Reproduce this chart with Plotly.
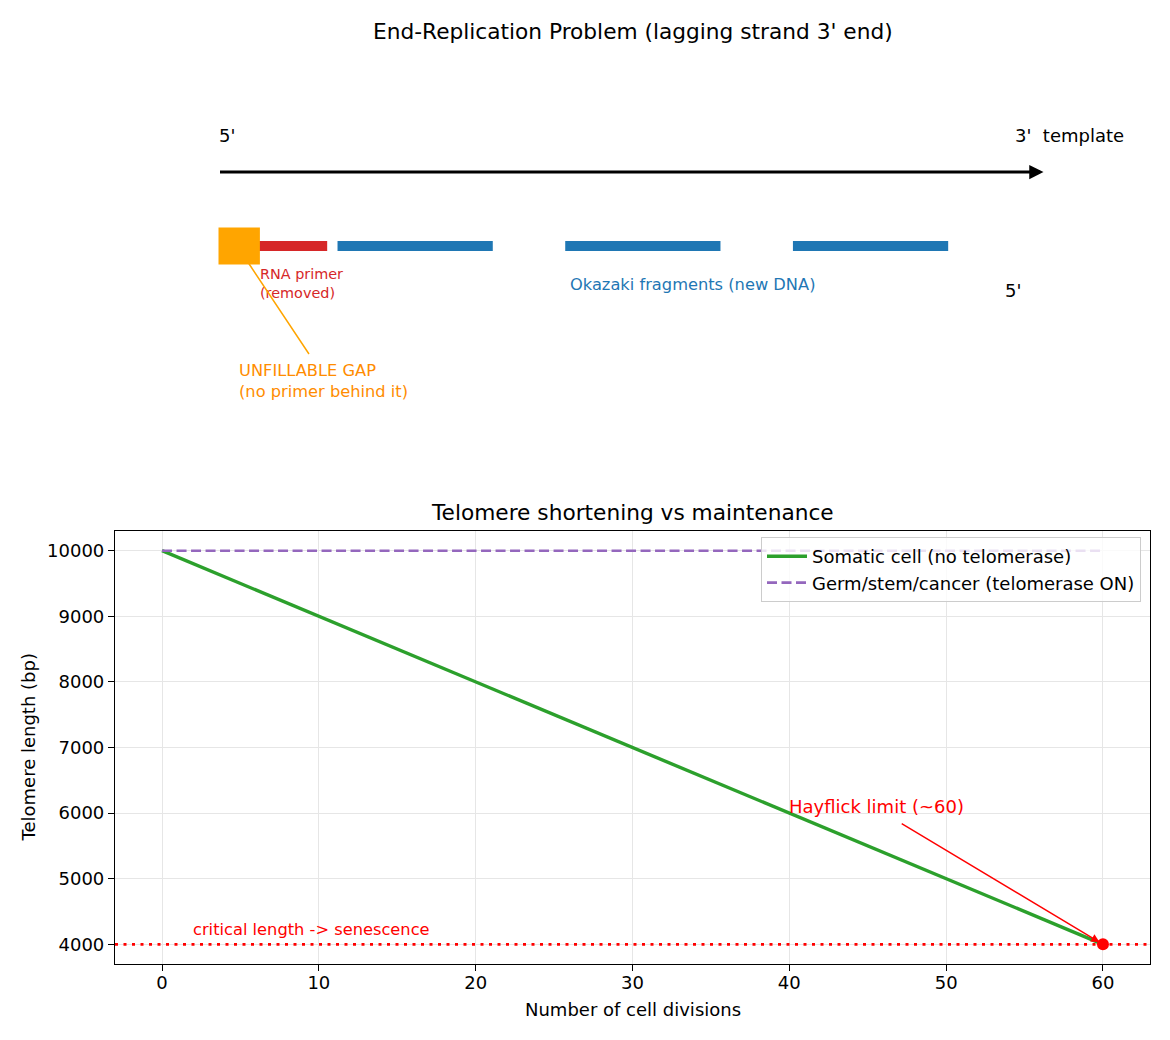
import plotly.graph_objects as go

# ---------------- data ----------------
divisions = [0, 10, 20, 30, 40, 50, 60]
somatic_bp = [10000, 9000, 8000, 7000, 6000, 5000, 4000]
germ_bp = [10000, 10000, 10000, 10000, 10000, 10000, 10000]
critical_bp = 4000
hayflick_div = 60
x_ticks = [0, 10, 20, 30, 40, 50, 60]
y_ticks = [4000, 5000, 6000, 7000, 8000, 9000, 10000]
y_tick_labels = ["4000", "5000", "6000", "7000", "8000", "9000", "10000"]

# diagram (schematic units)
template_span = [1.0, 9.0]
strand_y = 2.0
template_y = 3.0
primer_seg = [1.35, 2.05]
okazaki_segs = [[2.15, 3.65], [4.35, 5.85], [6.55, 8.05]]
gap_box_x = [1.0, 1.4]
gap_box_y = [1.75, 2.25]

W, H = 1170, 1040
FONT = "DejaVu Sans"


def px_x(p):
    return p / W


def px_y(p):
    return 1 - p / H


fig = go.Figure()

# ---------- top diagram ----------
fig.add_trace(go.Scatter(x=primer_seg, y=[strand_y, strand_y], mode="lines",
                         line=dict(color="#d62728", width=10), xaxis="x2", yaxis="y2",
                         showlegend=False, hoverinfo="skip"))
for seg in okazaki_segs:
    fig.add_trace(go.Scatter(x=seg, y=[strand_y, strand_y], mode="lines",
                             line=dict(color="#1f77b4", width=10), xaxis="x2", yaxis="y2",
                             showlegend=False, hoverinfo="skip"))
fig.add_shape(type="rect", xref="x2", yref="y2",
              x0=gap_box_x[0], x1=gap_box_x[1], y0=gap_box_y[0], y1=gap_box_y[1],
              fillcolor="orange", line=dict(width=0), layer="above")

# ---------- bottom chart ----------
fig.add_trace(go.Scatter(x=divisions, y=somatic_bp, mode="lines",
                         name="Somatic cell (no telomerase)",
                         line=dict(color="#2ca02c", width=3.4)))
fig.add_trace(go.Scatter(x=divisions, y=germ_bp, mode="lines",
                         name="Germ/stem/cancer (telomerase ON)",
                         line=dict(color="#9467bd", width=2.6, dash="10px,4.5px")))
fig.add_trace(go.Scatter(x=[-3, 63], y=[critical_bp, critical_bp], mode="lines",
                         line=dict(color="red", width=2.8, dash="3px,5.5px"),
                         showlegend=False, hoverinfo="skip"))
fig.add_trace(go.Scatter(x=[hayflick_div], y=[critical_bp], mode="markers",
                         marker=dict(color="red", size=12), showlegend=False))

annotations = []


def text_ann(text, x, y, size, color="black", xref="paper", yref="paper",
             xanchor="center", yanchor="middle", angle=0, xshift=0, yshift=0,
             align="center"):
    annotations.append(dict(text=text, x=x, y=y, xref=xref, yref=yref,
                            xanchor=xanchor, yanchor=yanchor, showarrow=False,
                            textangle=angle, xshift=xshift, yshift=yshift, align=align,
                            font=dict(family=FONT, size=size, color=color)))


# titles and labels
text_ann("End-Replication Problem (lagging strand 3' end)", px_x(632.5), px_y(31), 21.7)
text_ann("Telomere shortening vs maintenance", px_x(632.5), px_y(512), 21.7)
text_ann("Telomere length (bp)", px_x(28), px_y(747.5), 18, angle=-90)
text_ann("Number of cell divisions", px_x(632.5), px_y(1009), 18)

# diagram texts
text_ann("5'", 1.0, 3.5, 18, xref="x2", yref="y2", xanchor="left", xshift=-2)
text_ann("3'\u00a0 template", 8.7, 3.5, 18, xref="x2", yref="y2", xanchor="left", xshift=-2)
text_ann("RNA primer<br>(removed)", 1.4, 1.494, 14.4, color="#d62728", xref="x2",
         yref="y2", xanchor="left", xshift=-2, align="left")
text_ann("Okazaki fragments (new DNA)", 4.4, 1.48, 16.25, color="#1f77b4",
         xref="x2", yref="y2", xanchor="left", xshift=-2)
text_ann("5'", 8.6, 1.405, 18, xref="x2", yref="y2", xanchor="left", xshift=-2)
text_ann("UNFILLABLE GAP<br>(no primer behind it)", 1.2, 0.18, 16.25, color="darkorange",
         xref="x2", yref="y2", xanchor="left", xshift=-2, align="left")

# template arrow
annotations.append(dict(text="", x=template_span[1], y=template_y,
                        ax=template_span[0], ay=template_y,
                        xref="x2", yref="y2", axref="x2", ayref="y2",
                        showarrow=True, arrowhead=2, arrowsize=0.95, arrowwidth=3,
                        arrowcolor="black", standoff=3, startstandoff=0))
# gap connector
annotations.append(dict(text="", x=1.285, y=1.78, ax=1.884, ay=0.52,
                        xref="x2", yref="y2", axref="x2", ayref="y2",
                        showarrow=True, arrowhead=0, arrowwidth=1.5,
                        arrowcolor="orange", standoff=0, startstandoff=0))

# Hayflick annotation
text_ann("Hayflick limit (~60)", 40, 6000, 18, color="red", xref="x", yref="y",
         xanchor="left", yanchor="bottom", xshift=-2, yshift=-6)
annotations.append(dict(text="", x=hayflick_div, y=critical_bp, ax=47.07, ay=5854,
                        xref="x", yref="y", axref="x", ayref="y",
                        showarrow=True, arrowhead=2, arrowsize=1.2, arrowwidth=1.4,
                        arrowcolor="red", standoff=4, startstandoff=0))
text_ann("critical length -> senescence", 2, 4100, 16.25, color="red", xref="x", yref="y",
         xanchor="left", yanchor="bottom", xshift=-2, yshift=-3)

axis_common = dict(showline=True, linecolor="black", linewidth=1.2, mirror=True,
                   ticks="outside", ticklen=6, tickwidth=1.2, tickcolor="black",
                   showgrid=True, gridcolor="#e6e6e6", gridwidth=1, zeroline=False,
                   tickfont=dict(family=FONT, size=18, color="black"))

fig.update_layout(
    width=W, height=H,
    margin=dict(l=0, r=0, t=0, b=0),
    paper_bgcolor="white", plot_bgcolor="white",
    font=dict(family=FONT, size=18, color="black"),
    xaxis=dict(domain=[px_x(115), px_x(1150)], range=[-3, 63], tickvals=x_ticks,
               ticktext=[str(v) for v in x_ticks], ticklabelstandoff=-4,
               anchor="y", **axis_common),
    yaxis=dict(domain=[px_y(964), px_y(531)], range=[3700, 10300], tickvals=y_ticks,
               ticktext=y_tick_labels, anchor="x", **axis_common),
    xaxis2=dict(domain=[px_x(115), px_x(1150)], range=[0, 10], visible=False, anchor="y2"),
    yaxis2=dict(domain=[px_y(468), px_y(61)], range=[-1, 4.5], visible=False, anchor="x2"),
    legend=dict(x=px_x(1141), y=px_y(537), xanchor="right", yanchor="top",
                bgcolor="rgba(255,255,255,0.8)", bordercolor="#cccccc", borderwidth=1,
                font=dict(family=FONT, size=18, color="black"),
                itemwidth=40, tracegroupgap=0),
    annotations=annotations,
    showlegend=True,
)

fig.write_html("out.html")
